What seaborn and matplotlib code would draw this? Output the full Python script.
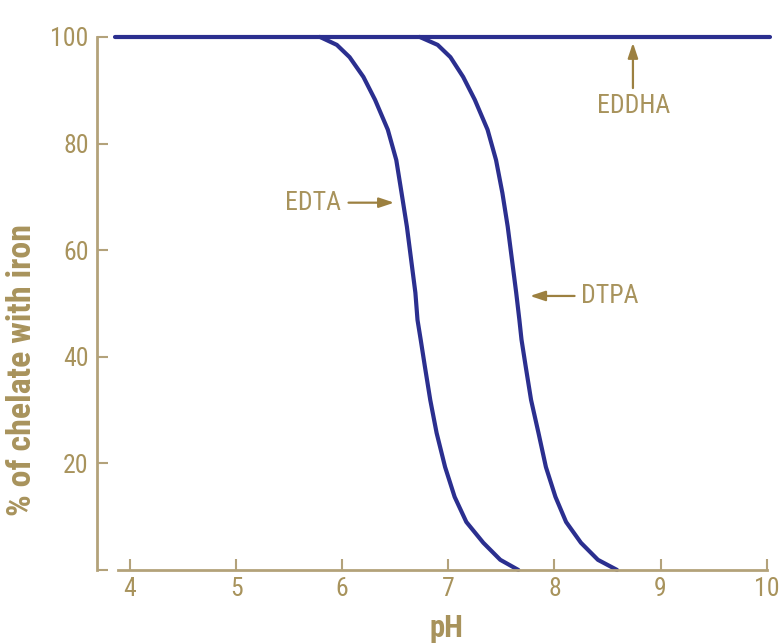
import pandas as pd
import matplotlib
matplotlib.use('Agg')
import matplotlib.pyplot as plt
import seaborn as sns

# values
edta_ph = [5.79, 5.95, 6.07, 6.20, 6.31, 6.43, 6.51, 6.56, 6.61, 6.65, 6.69, 6.71, 6.74, 6.78,
           6.83, 6.89, 6.97, 7.06, 7.17, 7.33, 7.49, 7.66]
edta_pct = [100, 98.5, 96.2, 92.5, 88.2, 82.6, 76.9, 70.7, 64.4, 58.2, 52.0, 46.9, 43.2, 38.1,
            31.9, 25.7, 19.3, 13.7, 9.0, 5.1, 1.9, 0]

dtpa_ph = [6.73, 6.90, 7.02, 7.14, 7.25, 7.37, 7.45, 7.51, 7.56, 7.60, 7.64, 7.67, 7.69, 7.73,
           7.78, 7.85, 7.92, 8.01, 8.11, 8.25, 8.41, 8.59]
dtpa_pct = [100, 98.5, 96.2, 92.5, 88.2, 82.6, 76.9, 70.7, 64.4, 58.2, 52.0, 46.9, 43.2, 38.1,
            31.9, 25.7, 19.3, 13.7, 9.0, 5.1, 1.9, 0]

eddha_ph = [3.86, 10.03]
eddha_pct = [100, 100]

x_ticks = [4, 5, 6, 7, 8, 9, 10]
y_ticks = [0, 20, 40, 60, 80, 100]
y_tick_labels = ['', '20', '40', '60', '80', '100']

gold = '#a8935c'
arrow_gold = '#9c8040'
axis_gold = '#b3a27a'
navy = '#2b2f8f'

df = pd.concat([
    pd.DataFrame({'pH': edta_ph, 'pct': edta_pct, 'chelate': 'EDTA'}),
    pd.DataFrame({'pH': dtpa_ph, 'pct': dtpa_pct, 'chelate': 'DTPA'}),
    pd.DataFrame({'pH': eddha_ph, 'pct': eddha_pct, 'chelate': 'EDDHA'}),
])

sns.set_style('white')
plt.rcParams['font.family'] = ['Roboto Condensed', 'DejaVu Sans']

fig = plt.figure(figsize=(7.83, 6.44), dpi=100)
ax = fig.add_axes([0.1239, 0.115, 0.862, 0.8277])

sns.lineplot(data=df, x='pH', y='pct', hue='chelate', units='chelate', estimator=None,
             palette={'EDTA': navy, 'DTPA': navy, 'EDDHA': navy},
             linewidth=3, legend=False, ax=ax)
for line in ax.get_lines():
    line.set_clip_on(False)
    line.set_solid_joinstyle('round')

ax.set_xlim(3.69, 10.05)
ax.set_ylim(0, 100)

sns.despine(ax=ax)
for side in ['left', 'bottom']:
    ax.spines[side].set_color(axis_gold)
    ax.spines[side].set_linewidth(2)
ax.spines['left'].set_bounds(0, 100)
ax.spines['bottom'].set_bounds(3.89, 10)

ax.set_xticks(x_ticks)
ax.set_yticks(y_ticks)
ax.set_yticklabels(y_tick_labels)
ax.tick_params(axis='both', direction='in', length=8, width=1.5, color=axis_gold,
               labelcolor=gold, labelsize=18.5, bottom=True, left=True)
ax.tick_params(axis='y', pad=6)
ax.tick_params(axis='x', pad=5)

ax.set_xlabel('pH', color=gold, fontsize=22, fontweight='bold')
ax.set_ylabel('% of chelate with iron', color=gold, fontsize=24.5, fontweight='bold')
ax.xaxis.set_label_coords(0.518, -0.08)
ax.yaxis.set_label_coords(-0.087, 0.375)

arrow_style = dict(arrowstyle='-|>,head_length=0.9,head_width=0.3', color=arrow_gold, lw=1.6,
                   shrinkA=0, shrinkB=0)
ax.annotate('', xy=(6.49, 68.9), xytext=(6.06, 68.9), arrowprops=arrow_style)
ax.text(5.99, 68.9, 'EDTA', color=gold, fontsize=18.5, ha='right', va='center')

ax.annotate('', xy=(7.77, 51.4), xytext=(8.19, 51.4), arrowprops=arrow_style)
ax.text(8.25, 51.4, 'DTPA', color=gold, fontsize=18.5, ha='left', va='center')

ax.annotate('', xy=(8.74, 98.9), xytext=(8.74, 90.4), arrowprops=arrow_style)
ax.text(8.75, 87.0, 'EDDHA', color=gold, fontsize=18.5, ha='center', va='center')

fig.savefig('out.png', dpi=100)
